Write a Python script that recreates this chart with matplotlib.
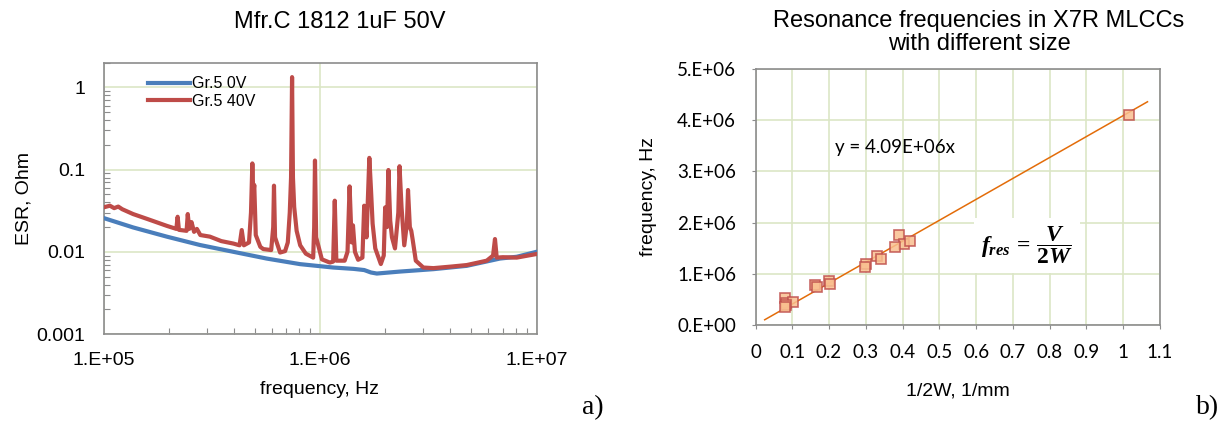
import numpy as np
import matplotlib.pyplot as plt
from matplotlib.ticker import FixedLocator, NullFormatter, LogLocator

plt.rcParams['font.family'] = ['Liberation Sans', 'DejaVu Sans']
plt.rcParams['mathtext.fontset'] = 'custom'
plt.rcParams['mathtext.it'] = 'Liberation Serif:italic:bold'
plt.rcParams['mathtext.rm'] = 'Liberation Serif:bold'

# ---------------------------------------------------------
# a) ESR spectrum, Mfr.C 1812 1uF 50V
# ---------------------------------------------------------

freq_0v = [1.0e5, 1.37e5, 1.96e5, 2.79e5, 3.98e5, 5.67e5, 8.09e5, 1.15e6,
           1.43e6, 1.60e6, 1.72e6, 1.83e6, 2.34e6, 3.34e6, 4.76e6, 6.78e6, 8.1e6, 1.0e7]
esr_0v = [0.0258, 0.0198, 0.0153, 0.0121, 0.0100, 0.00828, 0.00708, 0.00644,
          0.00620, 0.0060, 0.0056, 0.00544, 0.00575, 0.00615, 0.00675, 0.00828, 0.0087, 0.0100]

freq_40v = [1.0e5, 1.07e5, 1.12e5, 1.17e5, 1.22e5, 1.37e5, 1.60e5, 1.96e5,
            2.17e5, 2.20e5, 2.23e5, 2.42e5, 2.45e5, 2.49e5, 2.55e5, 2.62e5,
            2.70e5, 2.80e5, 3.10e5, 3.50e5, 3.98e5, 4.25e5, 4.35e5, 4.45e5,
            4.70e5, 4.80e5, 4.87e5, 4.92e5, 4.97e5, 5.05e5, 5.30e5, 5.47e5,
            5.95e5, 6.08e5, 6.13e5, 6.20e5, 6.54e5, 6.90e5, 7.10e5, 7.25e5,
            7.35e5, 7.43e5, 7.50e5, 7.60e5, 7.80e5, 8.10e5, 8.60e5, 9.30e5,
            9.40e5, 9.48e5, 9.60e5, 1.02e6, 1.11e6, 1.15e6, 1.17e6, 1.19e6,
            1.30e6, 1.34e6, 1.37e6, 1.40e6, 1.42e6, 1.45e6, 1.50e6, 1.57e6,
            1.60e6, 1.64e6, 1.69e6, 1.72e6, 1.75e6, 1.80e6, 1.91e6, 1.97e6,
            2.00e6, 2.04e6, 2.07e6, 2.11e6, 2.15e6, 2.22e6, 2.30e6, 2.33e6,
            2.38e6, 2.45e6, 2.52e6, 2.55e6, 2.60e6, 2.64e6, 2.68e6, 2.77e6,
            3.00e6, 3.34e6, 4.00e6, 4.76e6, 5.89e6, 6.30e6, 6.43e6, 6.55e6,
            7.00e6, 8.10e6, 1.0e7]
esr_40v = [0.0347, 0.0364, 0.0340, 0.0355, 0.0330, 0.0288, 0.0250, 0.0207,
           0.0190, 0.0267, 0.0185, 0.0180, 0.0288, 0.0190, 0.0230, 0.0175,
           0.0190, 0.0160, 0.0153, 0.0135, 0.0126, 0.0120, 0.0184, 0.0120,
           0.0130, 0.0300, 0.119, 0.0500, 0.0650, 0.0160, 0.0115, 0.0108,
           0.0105, 0.0200, 0.0638, 0.0150, 0.0098, 0.0102, 0.0130, 0.0300,
           0.0800, 1.335, 0.0800, 0.0350, 0.0180, 0.0120, 0.0095, 0.0085,
           0.0200, 0.129, 0.0150, 0.0081, 0.0074, 0.0076, 0.0419, 0.0078,
           0.0078, 0.0100, 0.0625, 0.0130, 0.0210, 0.0100, 0.0080, 0.0085,
           0.0364, 0.0150, 0.139, 0.0570, 0.0220, 0.0110, 0.0071, 0.0090,
           0.0347, 0.0200, 0.099, 0.0240, 0.0150, 0.0110, 0.0300, 0.110,
           0.0350, 0.0120, 0.0220, 0.0565, 0.0200, 0.0180, 0.0140, 0.0078,
           0.00644, 0.00633, 0.0066, 0.0069, 0.0078, 0.0090, 0.0143, 0.0085,
           0.0086, 0.0085, 0.0094]

esr_ticks = [0.001, 0.01, 0.1, 1]
esr_tick_labels = ['0.001', '0.01', '0.1', '1']
freq_ticks = [1e5, 1e6, 1e7]
freq_tick_labels = ['1.E+05', '1.E+06', '1.E+07']

# ---------------------------------------------------------
# b) resonance frequency vs 1/2W
# ---------------------------------------------------------

inv_2w = [1.016, 0.389, 0.403, 0.421, 0.380, 0.331, 0.342, 0.301, 0.298, 0.200,
          0.203, 0.163, 0.168, 0.081, 0.082, 0.101, 0.082, 0.080]
f_res = [4.11e6, 1.75e6, 1.58e6, 1.64e6, 1.52e6, 1.34e6, 1.29e6, 1.20e6, 1.14e6,
         0.85e6, 0.80e6, 0.78e6, 0.74e6, 0.53e6, 0.42e6, 0.45e6, 0.39e6, 0.36e6]
slope = 4.09e6
fit_range = [0.025, 1.066]

res_x_ticks = [0, 0.1, 0.2, 0.3, 0.4, 0.5, 0.6, 0.7, 0.8, 0.9, 1.0, 1.1]
res_x_labels = ['0', '0.1', '0.2', '0.3', '0.4', '0.5', '0.6', '0.7', '0.8', '0.9', '1', '1.1']
res_y_ticks = [0, 1e6, 2e6, 3e6, 4e6, 5e6]
res_y_labels = ['0.E+00', '1.E+06', '2.E+06', '3.E+06', '4.E+06', '5.E+06']

grid_col = '#dce6c6'
spine_col = '#8c8c8c'

fig = plt.figure(figsize=(12.24, 4.23), dpi=100)
W, H = 1224, 423

def px_axes(x0, y0, x1, y1):
    return fig.add_axes([x0 / W, 1 - y1 / H, (x1 - x0) / W, (y1 - y0) / H])

# ---- left panel
ax1 = px_axes(103.5, 62.7, 536.5, 334)
ax1.plot(freq_0v, esr_0v, color='#4a7ebb', lw=3.0, label='Gr.5 0V', zorder=3)
ax1.plot(freq_40v, esr_40v, color='#be4b48', lw=3.0, label='Gr.5 40V', zorder=4)
ax1.set_xscale('log')
ax1.set_yscale('log')
ax1.set_xlim(1e5, 1e7)
ax1.set_ylim(0.001, 2.0)
ax1.xaxis.set_major_locator(FixedLocator(freq_ticks))
ax1.set_xticklabels(freq_tick_labels)
ax1.yaxis.set_major_locator(FixedLocator(esr_ticks))
ax1.set_yticklabels(esr_tick_labels)
ax1.xaxis.set_minor_locator(LogLocator(base=10, subs=np.arange(2, 10)))
ax1.yaxis.set_minor_locator(LogLocator(base=10, subs=np.arange(2, 10)))
ax1.xaxis.set_minor_formatter(NullFormatter())
ax1.yaxis.set_minor_formatter(NullFormatter())
ax1.tick_params(which='major', length=0, labelsize=14, pad=13)
ax1.tick_params(which='minor', direction='in', length=4, width=0.8, color=spine_col)
ax1.grid(True, which='major', color=grid_col, lw=1.2)
ax1.set_axisbelow(True)
for s in ax1.spines.values():
    s.set_color(spine_col)
    s.set_linewidth(1.2)
ax1.set_xlabel('frequency, Hz', fontsize=14)
ax1.set_ylabel('ESR, Ohm', fontsize=14)
ax1.xaxis.set_label_coords(0.5, -0.175)
ax1.yaxis.set_label_coords(-0.163, 0.5)
ax1.legend(loc='upper left', bbox_to_anchor=(0.103, 0.95), frameon=False,
           fontsize=11.5, handlelength=2.6, handletextpad=0.15,
           labelspacing=0.15, borderpad=0, borderaxespad=0)

fig.text(340 / W, 1 - 22 / H, 'Mfr.C 1812 1uF 50V', fontsize=17,
         ha='center', va='center')
fig.text(593 / W, 1 - 408 / H, 'a)', fontsize=20, family='Liberation Serif',
         ha='center', va='center')

# ---- right panel
ax2 = px_axes(755.5, 69, 1160, 325)
ax2.plot(fit_range, [slope * x for x in fit_range], color='#e36c09', lw=1.1, zorder=3)
ax2.plot(inv_2w, f_res, ls='none', marker='s', ms=7, mfc='#f9bf8f',
         mec='#c0504d', mew=1.2, alpha=0.85, zorder=4)
ax2.set_xlim(0, 1.1)
ax2.set_ylim(0, 5e6)
ax2.set_xticks(res_x_ticks)
ax2.set_xticklabels(res_x_labels)
ax2.set_yticks(res_y_ticks)
ax2.set_yticklabels(res_y_labels)
for lab in ax2.get_xticklabels() + ax2.get_yticklabels():
    lab.set_family(['Lato', 'DejaVu Sans'])
ax2.tick_params(direction='out', length=3, color=spine_col, labelsize=13.5, pad=11)
ax2.grid(True, color=grid_col, lw=1.2)
ax2.set_axisbelow(True)
for s in ax2.spines.values():
    s.set_color(spine_col)
    s.set_linewidth(1.2)
ax2.set_xlabel('1/2W, 1/mm', fontsize=14)
ax2.set_ylabel('frequency, Hz', fontsize=14)
ax2.xaxis.set_label_coords(0.5, -0.225)
ax2.yaxis.set_label_coords(-0.243, 0.5)

ax2.text(0.379, 3.46e6, 'y = 4.09E+06x', fontsize=13.5, family=['Lato', 'DejaVu Sans'],
         ha='center', va='center')
ax2.text(0.738, 1.56e6, r'$f_{res}\,=\,\dfrac{V}{2W}$', fontsize=17,
         ha='center', va='center', zorder=5,
         bbox=dict(facecolor='white', edgecolor='none', pad=5))

fig.text(979 / W, 1 - 32.5 / H, 'Resonance frequencies in X7R MLCCs\nwith different size',
         fontsize=17, ha='center', va='center', linespacing=1.05)
fig.text(1208 / W, 1 - 408 / H, 'b)', fontsize=20, family='Liberation Serif',
         ha='center', va='center')

fig.savefig('out.png', dpi=100)
